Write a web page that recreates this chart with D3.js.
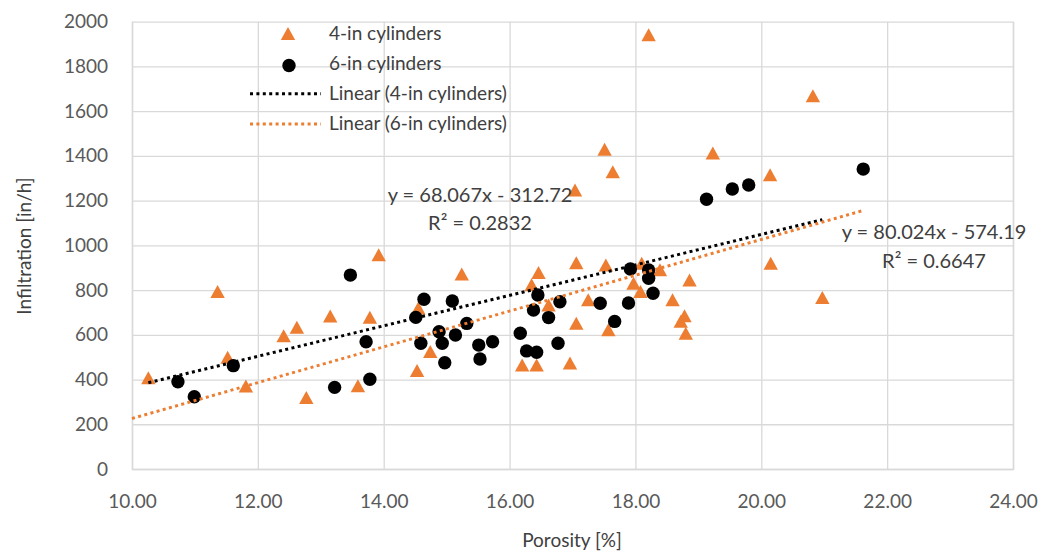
<!DOCTYPE html>
<html><head><meta charset="utf-8">
<script src="https://cdn.jsdelivr.net/npm/d3@7"></script>
<style>body{margin:0;background:#fff}text{font-family:Lato,"Open Sans",sans-serif}</style>
</head><body><svg id="c" width="1042" height="555"></svg>
<script>
// ---- data ----
const xTicks = [10, 12, 14, 16, 18, 20, 22, 24];
const yTicks = [0, 200, 400, 600, 800, 1000, 1200, 1400, 1600, 1800, 2000];
const seriesNames = ["4-in cylinders", "6-in cylinders"];
const fourX = [10.26, 11.36, 11.52, 11.81, 12.41, 12.62, 12.77, 13.15, 13.59, 13.78, 13.92, 14.53, 14.55, 14.74, 15.24, 16.20, 16.35, 16.43, 16.46, 16.62, 16.96, 17.04, 17.06, 17.06, 17.25, 17.51, 17.53, 17.57, 17.64, 17.97, 18.08, 18.10, 18.21, 18.39, 18.59, 18.72, 18.78, 18.80, 18.86, 19.23, 20.14, 20.15, 20.82, 20.97];
const fourY = [408, 793, 499, 371, 595, 633, 319, 684, 372, 678, 957, 440, 719, 525, 872, 465, 823, 465, 878, 733, 473, 1247, 922, 651, 756, 1429, 912, 622, 1329, 830, 793, 920, 1941, 890, 756, 660, 685, 607, 845, 1412, 1315, 920, 1669, 766];
const sixX = [10.73, 10.99, 11.61, 13.22, 13.47, 13.72, 13.78, 14.51, 14.59, 14.64, 14.88, 14.93, 14.97, 15.09, 15.14, 15.32, 15.51, 15.53, 15.73, 16.17, 16.27, 16.38, 16.43, 16.45, 16.62, 16.77, 16.80, 17.44, 17.67, 17.89, 17.92, 18.21, 18.21, 18.28, 19.13, 19.54, 19.80, 21.62];
const sixY = [390, 323, 462, 365, 867, 569, 401, 678, 562, 759, 614, 562, 475, 751, 599, 651, 554, 492, 569, 607, 528, 711, 522, 778, 677, 562, 748, 741, 660, 742, 894, 890, 853, 786, 1206, 1252, 1270, 1341];
const trendNames = ["Linear (4-in cylinders)", "Linear (6-in cylinders)"];
const trendSlope = [68.067, 80.024];
const trendIntercept = [-312.72, -574.19];
const trendFrom = [10.26, 10.0];
const trendTo = [20.97, 21.62];
const eqLabels = ["y = 68.067x - 312.72", "y = 80.024x - 574.19"];
const r2Labels = ["R\u00b2 = 0.2832", "R\u00b2 = 0.6647"];

// ---- layout ----
const svg = d3.select("#c");
const X0 = 132, X1 = 1013, Y0 = 469, Y1 = 21.7;
const x = d3.scaleLinear().domain([10, 24]).range([X0, X1]);
const y = d3.scaleLinear().domain([0, 2000]).range([Y0, Y1]);
const orange = "#ED7D31", grid = "#d9d9d9", tickCol = "#595959", txtCol = "#404040";

// gridlines via axes
const gx = svg.append("g").attr("transform", `translate(0,${Y0})`)
  .call(d3.axisBottom(x).tickValues(xTicks).tickSize(-(Y0 - Y1)).tickFormat(d => d.toFixed(2)).tickPadding(14));
gx.select(".domain").attr("stroke", grid).attr("stroke-width", 1.5);
gx.selectAll(".tick line").attr("stroke", grid).attr("stroke-width", 1.3);
gx.selectAll(".tick text").attr("fill", tickCol).style("font-size", "19px").attr("dy", "0.71em").attr("y", 26);

const gy = svg.append("g").attr("transform", `translate(${X0},0)`)
  .call(d3.axisLeft(y).tickValues(yTicks).tickFormat(d3.format("d")).tickSize(-(X1 - X0)).tickPadding(23));
gy.select(".domain").remove();
gy.selectAll(".tick line").attr("stroke", grid).attr("stroke-width", 1.3);
gy.selectAll(".tick text").attr("fill", tickCol).style("font-size", "19px").attr("x", -24);
gy.selectAll(".tick").filter(d => d === 0).select("line").attr("stroke-width", 1.6);

// axis titles
svg.append("text").attr("x", 572).attr("y", 547).attr("text-anchor", "middle")
  .attr("fill", txtCol).style("font-size", "19px").text("Porosity [%]");
svg.append("text").attr("transform", "translate(31,246) rotate(-90)").attr("text-anchor", "middle")
  .attr("fill", txtCol).style("font-size", "19px").text("Infiltration [in/h]");

// markers
const tri = {draw(ctx, s) { ctx.moveTo(0, -6.6); ctx.lineTo(7.2, 6.4); ctx.lineTo(-7.2, 6.4); ctx.closePath(); }};
const triPath = d3.symbol().type(tri)();
const four = fourX.map((v, i) => [v, fourY[i]]);
const six = sixX.map((v, i) => [v, sixY[i]]);
svg.append("g").selectAll("path").data(four).join("path")
  .attr("d", triPath).attr("fill", orange)
  .attr("transform", d => `translate(${x(d[0])},${y(d[1])})`);
svg.append("g").selectAll("circle").data(six).join("circle")
  .attr("cx", d => x(d[0])).attr("cy", d => y(d[1])).attr("r", 6.7).attr("fill", "#000");

// trendlines
const trendColors = ["#000", orange];
trendSlope.forEach((m, i) => {
  const b = trendIntercept[i];
  svg.append("line")
    .attr("x1", x(trendFrom[i])).attr("y1", y(m * trendFrom[i] + b))
    .attr("x2", x(trendTo[i])).attr("y2", y(m * trendTo[i] + b))
    .attr("stroke", trendColors[i]).attr("stroke-width", 3).attr("stroke-dasharray", "3,3.4");
});

// equation labels
const eqPos = [[480, 202, 230], [934, 239, 268]];
eqLabels.forEach((t, i) => {
  svg.append("text").attr("x", eqPos[i][0]).attr("y", eqPos[i][1]).attr("text-anchor", "middle")
    .attr("fill", txtCol).style("font-size", "20px").text(t);
  svg.append("text").attr("x", eqPos[i][0]).attr("y", eqPos[i][2]).attr("text-anchor", "middle")
    .attr("fill", txtCol).style("font-size", "20px").text(r2Labels[i]);
});

// legend
const lg = svg.append("g");
lg.append("path").attr("d", triPath).attr("fill", orange).attr("transform", "translate(288,33.5)");
lg.append("circle").attr("cx", 289).attr("cy", 65.5).attr("r", 6.7).attr("fill", "#000");
lg.append("line").attr("x1", 250).attr("x2", 321).attr("y1", 93.7).attr("y2", 93.7)
  .attr("stroke", "#000").attr("stroke-width", 3).attr("stroke-dasharray", "3,3.4");
lg.append("line").attr("x1", 250).attr("x2", 321).attr("y1", 124).attr("y2", 124)
  .attr("stroke", orange).attr("stroke-width", 3).attr("stroke-dasharray", "3,3.4");
const legTexts = [seriesNames[0], seriesNames[1], trendNames[0], trendNames[1]];
legTexts.forEach((t, i) => {
  lg.append("text").attr("x", 329).attr("y", 40 + i * 30).attr("fill", txtCol)
    .style("font-size", "19px").text(t);
});
</script></body></html>
